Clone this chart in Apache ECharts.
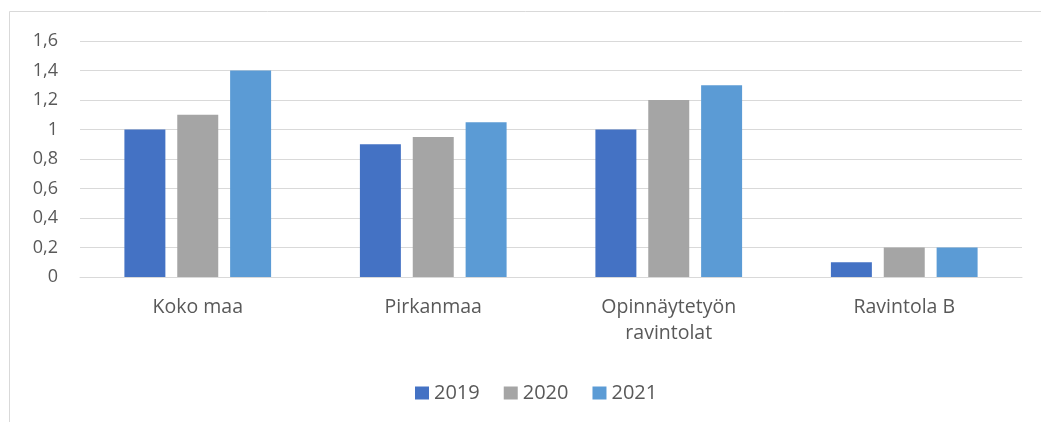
<!DOCTYPE html>
<html><head><meta charset="utf-8">
<script src="https://cdn.jsdelivr.net/npm/echarts@6/dist/echarts.min.js"></script>
<style>html,body{margin:0;padding:0;background:#fff}#c{width:1041px;height:422px}</style>
</head><body><div id="c"></div>
<script>
const categories = ['Koko maa', 'Pirkanmaa', 'Opinnäytetyön\nravintolat', 'Ravintola B'];
const seriesNames = ['2019', '2020', '2021'];
const values2019 = [1.0, 0.9, 1.0, 0.1];
const values2020 = [1.1, 0.95, 1.2, 0.2];
const values2021 = [1.4, 1.05, 1.3, 0.2];
const colors = ['#4472c4', '#a5a5a5', '#5b9bd5'];
const font = 'Open Sans';
const chart = echarts.init(document.getElementById('c'), null, {renderer: 'canvas'});
const data = [values2019, values2020, values2021];
chart.setOption({
  animation: false,
  color: colors,
  graphic: [{type: 'rect', shape: {x: 9.5, y: 11.5, width: 1040, height: 420}, style: {fill: 'none', stroke: '#d9d9d9', lineWidth: 1}}],
  grid: {left: 80, right: 19, top: 41, bottom: 145},
  legend: {top: 378, left: 410, itemWidth: 14, itemHeight: 13, itemGap: 24,
    textStyle: {fontFamily: font, fontSize: 20, color: '#595959'},
    data: seriesNames, icon: 'rect'},
  xAxis: {type: 'category', data: categories,
    axisLine: {lineStyle: {color: '#d9d9d9', width: 1}}, axisTick: {show: false},
    axisLabel: {fontFamily: font, fontSize: 19.5, color: '#595959', margin: 17, lineHeight: 26}},
  yAxis: {type: 'value', min: 0, max: 1.6, interval: 0.2,
    axisLine: {show: false}, axisTick: {show: false},
    splitLine: {lineStyle: {color: '#d9d9d9', width: 1}},
    axisLabel: {fontFamily: font, fontSize: 18, color: '#595959', margin: 22,
      formatter: v => String(Math.round(v * 10) / 10).replace('.', ',')}},
  series: seriesNames.map((n, i) => ({name: n, type: 'bar', data: data[i], barWidth: '17.4%', barGap: '29%'}))
});
</script></body></html>
